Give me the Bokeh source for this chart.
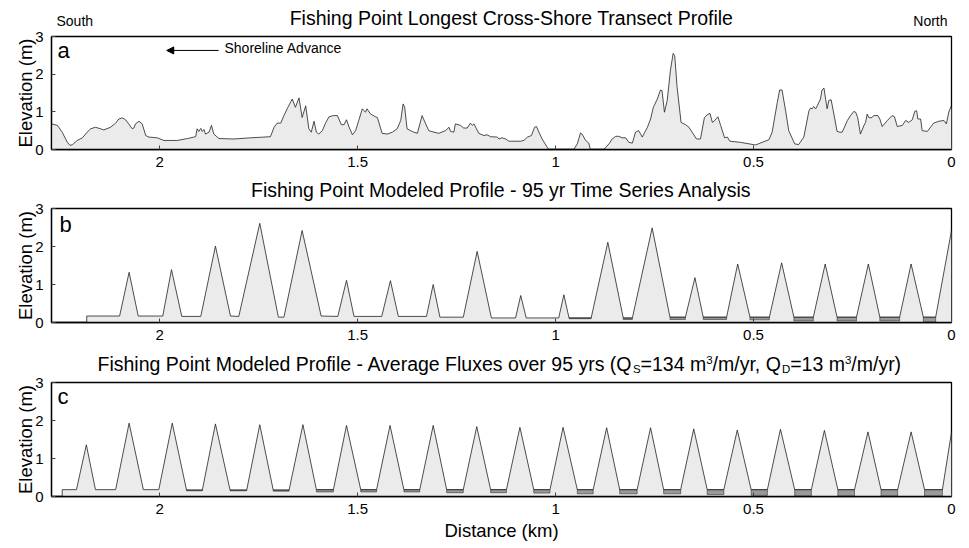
from bokeh.plotting import figure
from bokeh.models import Range1d, FixedTicker, NumeralTickFormatter, Label, Arrow, NormalHead
from bokeh.layouts import column
from bokeh.embed import file_html
from bokeh.resources import INLINE

FONT = "Liberation Sans"

# ---------------- data ----------------
x_ticks = [2, 1.5, 1, 0.5, 0]
y_ticks = [0, 1, 2, 3]
x_max = 2.273

# (a) measured transect profile
a_dist = [2.273, 2.258, 2.246, 2.233, 2.226, 2.220, 2.208, 2.195, 2.183, 2.174, 2.162, 2.149, 2.141,
          2.124, 2.111, 2.103, 2.094, 2.086, 2.078, 2.069, 2.065, 2.061, 2.052, 2.044, 2.035, 2.027,
          2.006, 1.989, 1.955, 1.930, 1.909, 1.905, 1.901, 1.896, 1.892, 1.888, 1.884, 1.875, 1.869,
          1.863, 1.850, 1.812, 1.770, 1.720, 1.711, 1.703, 1.694, 1.686, 1.676, 1.665, 1.657, 1.648,
          1.640, 1.631, 1.623, 1.617, 1.610, 1.604, 1.598, 1.589, 1.581, 1.572,
          1.561, 1.551, 1.541, 1.534, 1.528, 1.522, 1.513, 1.505, 1.497, 1.488, 1.480, 1.476, 1.467,
          1.455, 1.450, 1.438, 1.425, 1.412, 1.400, 1.391, 1.385, 1.381, 1.375, 1.366, 1.358, 1.349,
          1.337, 1.328, 1.320, 1.307, 1.295, 1.278, 1.269, 1.265, 1.257, 1.253, 1.240, 1.232, 1.223,
          1.215, 1.210, 1.206, 1.194, 1.181, 1.173, 1.164, 1.147, 1.143, 1.135, 1.126, 1.118, 1.088,
          1.080, 1.071, 1.061, 1.053, 1.048, 1.042, 1.034, 1.021, 1.017, 0.954, 0.945, 0.937, 0.933,
          0.924, 0.916, 0.912, 0.878, 0.865, 0.857, 0.848, 0.840, 0.832, 0.823, 0.815, 0.806, 0.798,
          0.790, 0.781, 0.768, 0.760,
          0.753, 0.743, 0.735, 0.731, 0.725, 0.718, 0.710, 0.703, 0.699, 0.693, 0.683, 0.672, 0.663,
          0.644, 0.634, 0.624, 0.617, 0.610, 0.604, 0.598, 0.590, 0.583, 0.573, 0.566, 0.560, 0.533,
          0.495, 0.461, 0.453, 0.440, 0.434, 0.428, 0.419, 0.411, 0.396, 0.386, 0.373, 0.360, 0.356,
          0.352, 0.348, 0.343, 0.339, 0.331, 0.327, 0.322, 0.318, 0.314, 0.310, 0.304, 0.297, 0.289,
          0.282, 0.276, 0.263, 0.255, 0.247, 0.242, 0.237, 0.230, 0.221, 0.217, 0.213, 0.209, 0.203,
          0.196, 0.186, 0.181, 0.175, 0.162, 0.150, 0.144, 0.137, 0.124, 0.116, 0.108, 0.099, 0.093,
          0.088, 0.085, 0.078, 0.074, 0.061, 0.045, 0.032, 0.019, 0.013, 0.007, 0.001, 0.0]
a_elev = [0.68, 0.64, 0.46, 0.19, 0.11, 0.13, 0.24, 0.31, 0.46, 0.55, 0.59, 0.55, 0.52,
          0.59, 0.70, 0.81, 0.84, 0.79, 0.68, 0.55, 0.57, 0.68, 0.75, 0.68, 0.37, 0.33,
          0.31, 0.24, 0.24, 0.29, 0.34, 0.55, 0.48, 0.56, 0.48, 0.53, 0.41, 0.46, 0.64,
          0.41, 0.29, 0.28, 0.31, 0.34, 0.59, 0.70, 0.70, 0.90, 1.12, 1.34, 1.12, 1.37,
          0.85, 1.16, 0.55, 0.46, 0.75, 0.46, 0.41, 0.50, 0.70, 0.87,
          0.90, 0.90, 0.66, 0.66, 0.79, 0.61, 0.39, 0.50, 0.77, 1.08, 0.99, 1.08, 0.94,
          0.87, 0.85, 0.43, 0.41, 0.46, 0.55, 0.77, 1.21, 1.12, 0.55, 0.50, 0.46, 0.43,
          0.90, 0.68, 0.50, 0.46, 0.43, 0.50, 0.59, 0.48, 0.46, 0.68, 0.64, 0.57, 0.57,
          0.70, 0.64, 0.68, 0.43, 0.37, 0.39, 0.34, 0.33, 0.28, 0.31, 0.28, 0.22, 0.22,
          0.24, 0.33, 0.37, 0.59, 0.61, 0.46, 0.28, 0.06, 0.0, 0.0, 0.15, 0.44, 0.41,
          0.24, 0.17, 0.0, 0.0, 0.15, 0.28, 0.35, 0.35, 0.31, 0.31, 0.19, 0.17, 0.46,
          0.50, 0.33, 0.59, 0.81,
          1.12, 1.34, 1.58, 1.56, 0.99, 1.30, 2.09, 2.55, 2.49, 1.65, 0.72, 0.66, 0.59,
          0.28, 0.28, 0.85, 0.92, 0.96, 0.72, 0.77, 0.87, 0.64, 0.31, 0.33, 0.22, 0.19,
          0.12, 0.26, 0.46, 1.25, 1.58, 1.58, 1.03, 0.50, 0.15, 0.13, 0.33, 1.03, 1.10,
          1.08, 1.14, 1.08, 1.16, 1.34, 1.58, 1.63, 1.34, 1.08, 1.30, 1.32, 0.94, 0.48,
          0.46, 0.46, 0.77, 0.90, 1.01, 0.99, 0.85, 0.41, 0.64, 0.72, 0.94, 0.85, 0.84,
          0.90, 0.90, 0.81, 0.61, 0.77, 0.90, 0.87, 0.61, 0.64, 0.77, 0.72, 0.79, 1.01,
          1.03, 0.81, 0.81, 0.50, 0.48, 0.70, 0.75, 0.77, 0.68, 0.99, 1.14, 1.08]

# (b) modeled profile, 95 yr time series
b_dist = [2.184, 2.184, 2.101, 2.077, 2.054, 1.992, 1.970, 1.944, 1.896, 1.859, 1.821, 1.800, 1.747,
          1.700, 1.686, 1.640, 1.592, 1.550, 1.528, 1.509, 1.439, 1.417, 1.397, 1.326, 1.309, 1.292,
          1.233, 1.198, 1.162, 1.101, 1.088, 1.074, 0.992, 0.979, 0.966, 0.910, 0.868, 0.829, 0.806,
          0.756, 0.711, 0.672, 0.648, 0.627, 0.568, 0.540, 0.509, 0.460, 0.429, 0.398, 0.349, 0.319,
          0.289, 0.240, 0.210, 0.181, 0.131, 0.102, 0.071, 0.040, 0.0]
b_elev = [0.0, 0.17, 0.17, 1.32, 0.17, 0.17, 1.39, 0.16, 0.16, 2.01, 0.17, 0.16, 2.61,
          0.14, 0.14, 2.42, 0.17, 0.16, 1.11, 0.16, 0.16, 1.10, 0.16, 0.16, 1.00, 0.14,
          0.14, 1.87, 0.12, 0.12, 0.71, 0.12, 0.12, 0.73, 0.12, 0.12, 2.11, 0.12, 0.12,
          2.49, 0.14, 0.14, 1.18, 0.14, 0.14, 1.54, 0.14, 0.14, 1.57, 0.14, 0.14, 1.54,
          0.14, 0.14, 1.54, 0.14, 0.14, 1.54, 0.14, 0.14, 2.42]
b_eros_left = [0.966, 0.829, 0.711, 0.627, 0.509, 0.398, 0.289, 0.181, 0.071]
b_eros_right = [0.910, 0.806, 0.672, 0.568, 0.460, 0.349, 0.240, 0.131, 0.040]
b_eros_top = [0.12, 0.12, 0.14, 0.14, 0.14, 0.14, 0.14, 0.14, 0.14]
b_eros_bottom = [0.10, 0.08, 0.08, 0.08, 0.07, 0.04, 0.04, 0.04, 0.01]

# (c) modeled profile, average fluxes
c_dist = [2.246, 2.246, 2.210, 2.185, 2.162, 2.111, 2.077, 2.041, 2.002, 1.968, 1.932, 1.892, 1.859,
          1.822, 1.780, 1.747, 1.713, 1.673, 1.638, 1.604, 1.561, 1.528, 1.492, 1.452, 1.418, 1.383,
          1.343, 1.309, 1.275, 1.233, 1.199, 1.164, 1.124, 1.090, 1.055, 1.014, 0.981, 0.945, 0.905,
          0.871, 0.838, 0.794, 0.760, 0.727, 0.684, 0.651, 0.617, 0.575, 0.541, 0.506, 0.465, 0.432,
          0.396, 0.354, 0.321, 0.287, 0.245, 0.211, 0.178, 0.136, 0.102, 0.068, 0.023, 0.0]
c_elev = [0.0, 0.18, 0.18, 1.36, 0.18, 0.18, 1.93, 0.18, 0.18, 1.93, 0.17, 0.17, 1.91,
          0.17, 0.17, 1.89, 0.17, 0.17, 1.89, 0.18, 0.18, 1.87, 0.18, 0.18, 1.87, 0.18,
          0.18, 1.87, 0.18, 0.18, 1.84, 0.18, 0.18, 1.82, 0.18, 0.18, 1.82, 0.18, 0.18,
          1.81, 0.18, 0.18, 1.81, 0.18, 0.18, 1.78, 0.18, 0.18, 1.75, 0.18, 0.18, 1.77,
          0.18, 0.18, 1.74, 0.18, 0.18, 1.70, 0.18, 0.18, 1.70, 0.18, 0.18, 1.69]
c_eros_left = [1.932, 1.822, 1.713, 1.604, 1.492, 1.383, 1.275, 1.164, 1.055, 0.945, 0.838, 0.727,
               0.617, 0.506, 0.396, 0.287, 0.178, 0.068]
c_eros_right = [1.892, 1.780, 1.673, 1.561, 1.452, 1.343, 1.233, 1.124, 1.014, 0.905, 0.794, 0.684,
                0.575, 0.465, 0.354, 0.245, 0.136, 0.023]
c_eros_top = [0.17, 0.17, 0.17, 0.18, 0.18, 0.18, 0.18, 0.18, 0.18, 0.18, 0.18, 0.18,
              0.18, 0.18, 0.18, 0.18, 0.18, 0.18]
c_eros_bottom = [0.15, 0.15, 0.14, 0.12, 0.12, 0.12, 0.10, 0.10, 0.09, 0.07, 0.07, 0.07,
                 0.05, 0.03, 0.01, 0.01, 0.01, 0.01]

LIGHT = "#ebebeb"
DARK = "#9a9a9a"
W = 969
TOP = 7


def make_fig(height, bottom, show_xlabel=False):
    p = figure(width=W, height=height, x_range=Range1d(x_max, 0), y_range=Range1d(0, 3),
               output_backend="svg", toolbar_location=None, title=None,
               min_border_left=51, min_border_right=18, min_border_top=TOP, min_border_bottom=bottom)
    p.xgrid.visible = False
    p.ygrid.visible = False
    p.outline_line_color = "black"
    p.outline_line_width = 1.3
    p.outline_line_alpha = 1
    p.background_fill_color = "white"
    p.border_fill_color = "white"
    p.xaxis.ticker = FixedTicker(ticks=x_ticks)
    p.xaxis.formatter = NumeralTickFormatter(format="0.[0]")
    p.yaxis.ticker = FixedTicker(ticks=y_ticks)
    for ax in (p.xaxis[0], p.yaxis[0]):
        ax.axis_line_color = "black"
        ax.axis_line_width = 1.3
        ax.major_tick_in = 4
        ax.major_tick_out = 0
        ax.major_tick_line_color = "#444444"
        ax.minor_tick_line_color = None
        ax.major_label_text_font = FONT
        ax.major_label_text_font_size = "15px"
        ax.major_label_text_color = "black"
        ax.axis_label_text_font = FONT
        ax.axis_label_text_font_size = "18.5px"
        ax.axis_label_text_font_style = "normal"
        ax.axis_label_text_color = "black"
    p.xaxis.major_label_standoff = 7
    p.yaxis.major_label_standoff = 8
    p.yaxis.axis_label = "Elevation (m)"
    p.yaxis.axis_label_standoff = -4
    if show_xlabel:
        p.xaxis.axis_label = "Distance (km)"
        p.xaxis.axis_label_standoff = 3
    return p


def make_header(height):
    h = figure(width=W, height=height, x_range=Range1d(0, W), y_range=Range1d(0, height),
               output_backend="svg", toolbar_location=None, x_axis_type=None, y_axis_type=None,
               title=None, min_border=0, min_border_left=0, min_border_right=0,
               min_border_top=0, min_border_bottom=0)
    h.xgrid.visible = False
    h.ygrid.visible = False
    h.outline_line_color = None
    h.background_fill_color = "white"
    h.border_fill_color = "white"
    return h


def clabel(p, x, y, text, size, align="left"):
    # y is the intended baseline (canvas px from top); Bokeh's alphabetic
    # baseline lands ~0.35 em lower, so compensate.
    p.add_layout(Label(x=x, y=y - 0.35 * size, x_units="canvas", y_units="canvas", text=text,
                       text_font=FONT, text_font_size=f"{size}px", text_align=align,
                       text_baseline="alphabetic", text_color="black"))


# ---------- panel a ----------
ha = make_header(29)
clabel(ha, 511, 24.3, "Fishing Point Longest Cross-Shore Transect Profile", 19.5, "center")
clabel(ha, 56, 25.6, "South", 14)
clabel(ha, 947, 25.6, "North", 14, "right")

pa = make_fig(151, 31)
pa.varea(x=a_dist, y1=[0] * len(a_dist), y2=a_elev, fill_color=LIGHT)
pa.line(a_dist, a_elev, line_color="#222222", line_width=0.8)
clabel(pa, 57, 29, "a", 22)
clabel(pa, 224, 23.5, "Shoreline Advance", 14)
pa.add_layout(Arrow(x_start=1.851, y_start=2.63, x_end=1.982, y_end=2.63,
                    line_color="black", line_width=1,
                    end=NormalHead(size=7, fill_color="black", line_color="black")))

# ---------- panel b ----------
hb = make_header(21)
clabel(hb, 501, 16.5, "Fishing Point Modeled Profile - 95 yr Time Series Analysis", 19.5, "center")

pb = make_fig(151, 30)
pb.varea(x=b_dist, y1=[0] * len(b_dist), y2=b_elev, fill_color=LIGHT)
pb.quad(left=b_eros_left, right=b_eros_right, top=b_eros_top, bottom=b_eros_bottom,
        fill_color=DARK, line_color="#333333", line_width=0.6)
pb.line(b_dist, b_elev, line_color="#222222", line_width=0.8)
clabel(pb, 59, 30.7, "b", 22)

# ---------- panel c ----------
hc = make_header(23)
clabel(hc, 97, 18.5, "Fishing Point Modeled Profile - Average Fluxes over 95 yrs (Q", 19.5)
clabel(hc, 632.4, 20.3, "S", 11.5)
clabel(hc, 640.1, 18.5, "=134 m", 19.5)
clabel(hc, 705.7, 11.5, "3", 11.5)
clabel(hc, 712.1, 18.5, "/m/yr, Q", 19.5)
clabel(hc, 781.4, 20.3, "D", 11.5)
clabel(hc, 789.7, 18.5, "=13 m", 19.5)
clabel(hc, 844.4, 11.5, "3", 11.5)
clabel(hc, 850.8, 18.5, "/m/yr)", 19.5)

pc = make_fig(173, 52, show_xlabel=True)
pc.varea(x=c_dist, y1=[0] * len(c_dist), y2=c_elev, fill_color=LIGHT)
pc.quad(left=c_eros_left, right=c_eros_right, top=c_eros_top, bottom=c_eros_bottom,
        fill_color=DARK, line_color="#333333", line_width=0.6)
pc.line(c_dist, c_elev, line_color="#222222", line_width=0.8)
clabel(pc, 57, 28.3, "c", 22)

layout = column(ha, pa, hb, pb, hc, pc, spacing=0)
open("out.html", "w").write(file_html(layout, INLINE))
